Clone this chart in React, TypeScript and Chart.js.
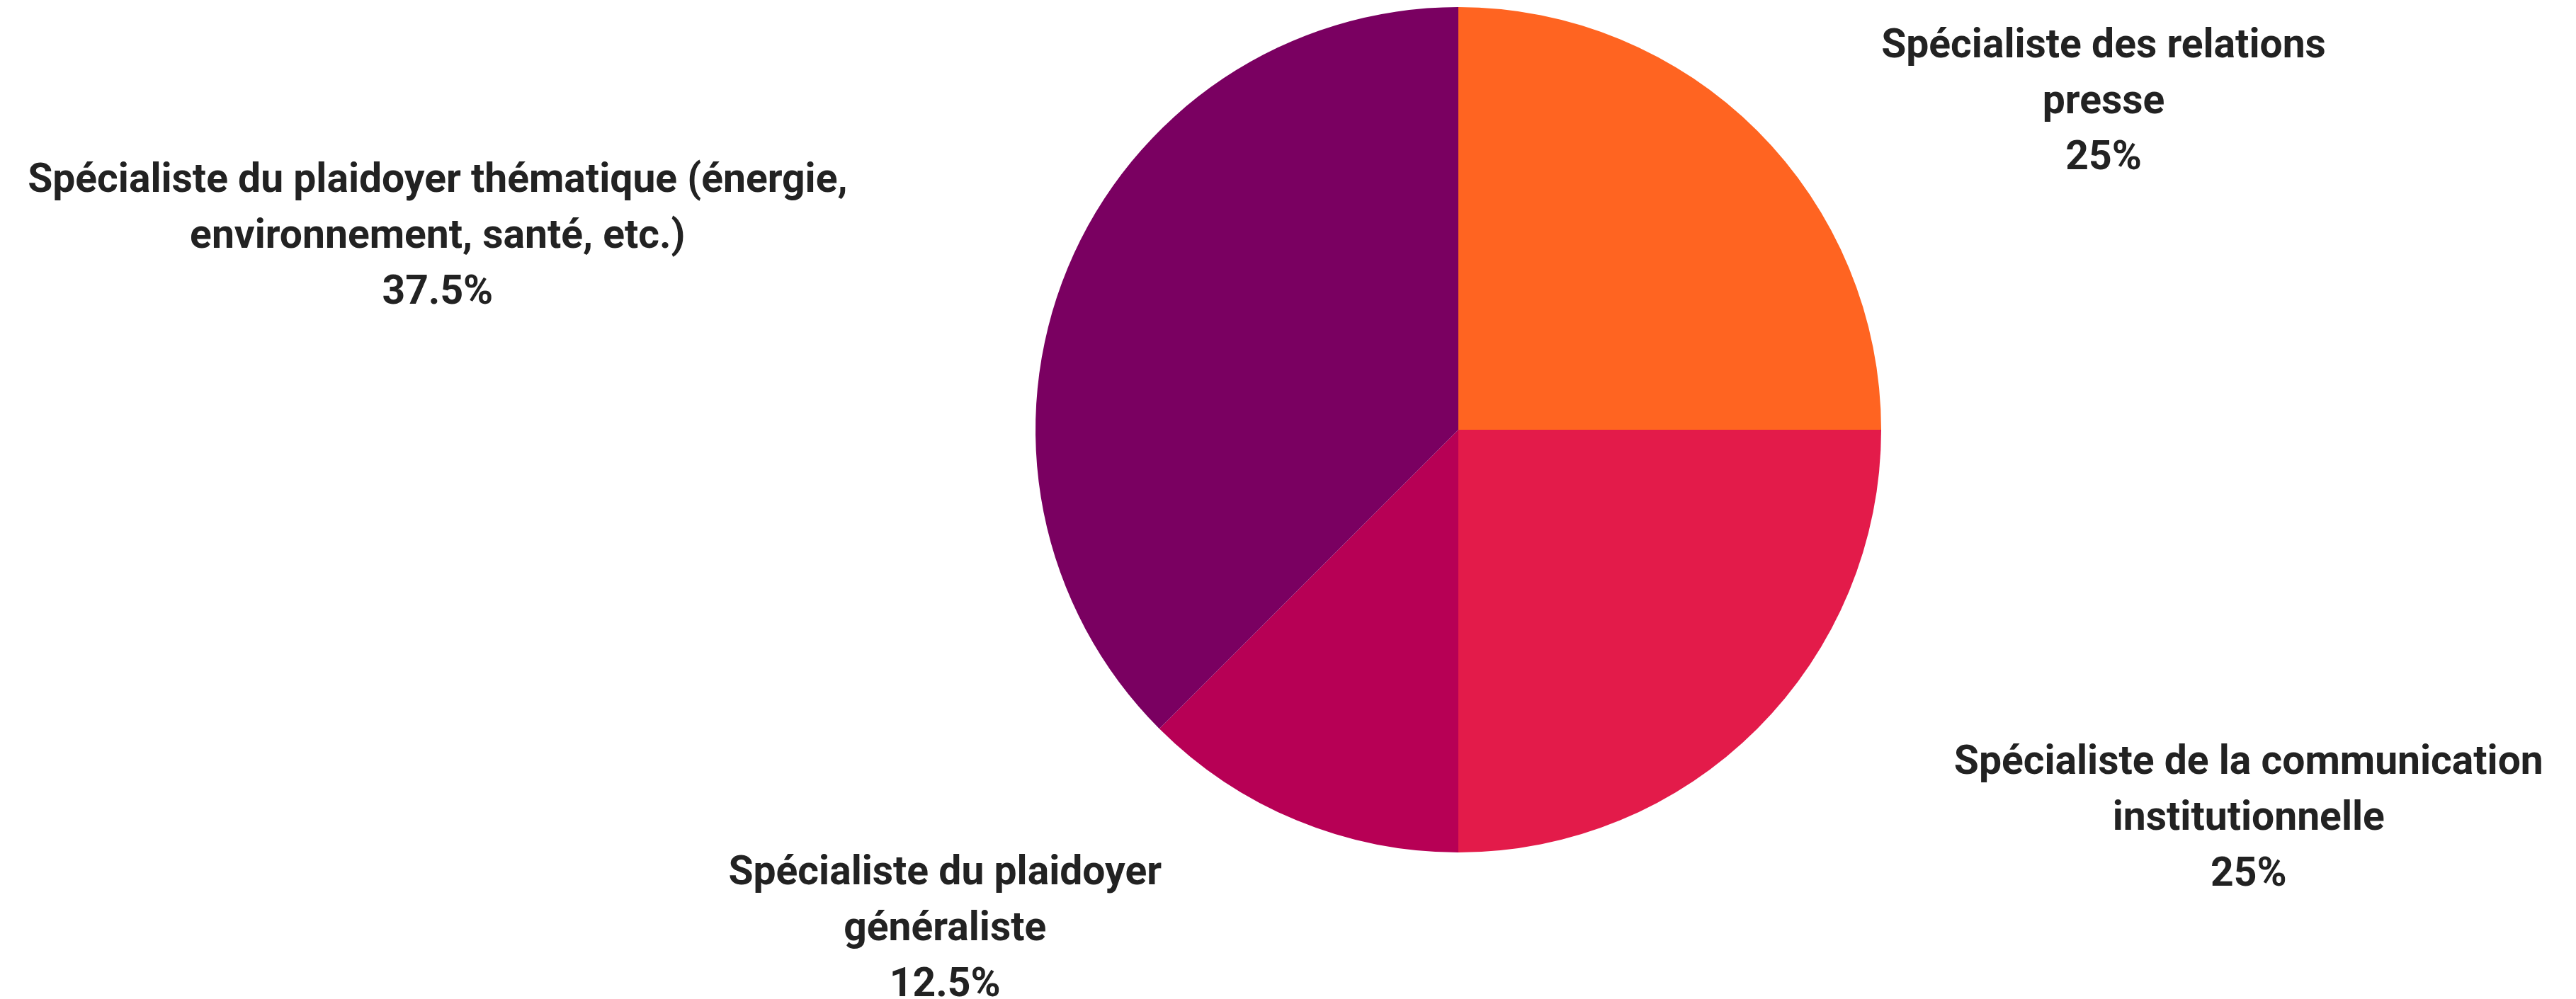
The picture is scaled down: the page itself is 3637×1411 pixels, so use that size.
import React, { useEffect, useRef } from "react";
import { Chart, registerables } from "chart.js";

Chart.register(...registerables);

// Data
const categories: string[][] = [
  ["Spécialiste des relations", "presse"],
  ["Spécialiste de la communication", "institutionnelle"],
  ["Spécialiste du plaidoyer", "généraliste"],
  ["Spécialiste du plaidoyer thématique (énergie,", "environnement, santé, etc.)"],
];
const values: number[] = [25, 25, 12.5, 37.5];
const colors: string[] = ["#FF6421", "#E31B4A", "#B70055", "#7A0061"];

// Label layout: anchor of the label block (centre of the middle line baseline),
// expressed in units of the pie radius relative to the pie centre.
const labelAnchors: [number, number][] = [
  [1.526, -0.749],
  [1.869, 0.946],
  [-1.214, 1.208],
  [-2.414, -0.43],
];

const FONT = "700 57px Roboto";
const LINE_H = 79;

const labelPlugin = {
  id: "outerLabels",
  afterDatasetsDraw(chart: any) {
    const ctx = chart.ctx as CanvasRenderingContext2D;
    const meta = chart.getDatasetMeta(0);
    const data = chart.data.datasets[0].data as number[];
    const total = data.reduce((a, b) => a + b, 0);
    ctx.save();
    ctx.font = FONT;
    ctx.fillStyle = "#222222";
    ctx.textAlign = "center";
    ctx.textBaseline = "alphabetic";
    meta.data.forEach((arc: any, i: number) => {
      const { x, y, outerRadius } = arc.getProps(["x", "y", "outerRadius"], true);
      const lines = [...(chart.data.labels[i] as string[])];
      const pct = Math.round((data[i] / total) * 1000) / 10;
      lines.push(`${pct}%`);
      const [fx, fy] = labelAnchors[i];
      const cx = x + fx * outerRadius;
      const cy = y + fy * outerRadius;
      const mid = (lines.length - 1) / 2;
      lines.forEach((ln, k) => {
        ctx.fillText(ln, cx, cy + (k - mid) * LINE_H);
      });
    });
    ctx.restore();
  },
};

export default function App() {
  const ref = useRef<HTMLCanvasElement | null>(null);
  useEffect(() => {
    if (!ref.current) return;
    const chart = new Chart(ref.current, {
      type: "pie",
      data: {
        labels: categories,
        datasets: [
          {
            data: values,
            backgroundColor: colors,
            borderWidth: 0,
          },
        ],
      },
      options: {
        animation: false,
        responsive: true,
        maintainAspectRatio: false,
        layout: { padding: { left: 1462, right: 981, top: 10, bottom: 207 } },
        plugins: {
          legend: { display: false },
          tooltip: { enabled: false },
        },
      },
      plugins: [labelPlugin],
    });
    return () => chart.destroy();
  }, []);
  return (
    <div
      style={{
        position: "absolute",
        left: 0,
        top: 0,
        width: 3637,
        height: 1411,
        background: "#ffffff",
      }}
    >
      <canvas ref={ref} />
    </div>
  );
}
